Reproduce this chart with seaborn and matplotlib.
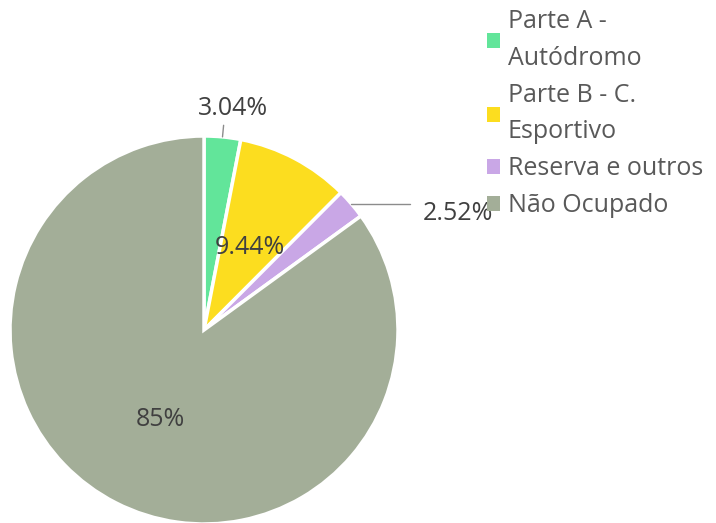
import numpy as np
import seaborn as sns
import matplotlib.pyplot as plt
from matplotlib.patches import Patch

labels = ["Parte A -\nAutódromo", "Parte B - C.\nEsportivo", "Reserva e outros", "Não Ocupado"]
values = [3.04, 9.44, 2.52, 85.0]
pct_text = ["3.04%", "9.44%", "2.52%", "85%"]
colors = ["#62E59A", "#FCDD1F", "#C9A7E6", "#A3AE98"]

sns.set_theme(style="white")
plt.rcParams['font.family'] = ['Open Sans', 'DejaVu Sans']
txt_color = "#404040"
leg_color = "#595959"
fs = 18

fig = plt.figure(figsize=(7.16, 5.23), dpi=100)
ax = fig.add_axes([0, 0, 1, 1])
wedges, _ = ax.pie(values, colors=sns.color_palette(colors), startangle=90,
                   counterclock=False, radius=1.0,
                   wedgeprops=dict(edgecolor="white", linewidth=2.5))
ax.set_aspect("equal")
r_px = 194
ax.set_xlim(-204 / r_px, (716 - 204) / r_px)
ax.set_ylim(-193 / r_px, 330 / r_px)
ax.axis("off")

for i, w in enumerate(wedges):
    mid = np.deg2rad((w.theta1 + w.theta2) / 2)
    cx, cy = np.cos(mid), np.sin(mid)
    if i in (1, 3):
        ax.text(0.5 * cx, 0.5 * cy - 0.015, pct_text[i], ha="center", va="center",
                fontsize=fs, color=txt_color)
    elif i == 0:
        ax.plot([cx, 1.06 * cx], [cy, 1.06 * cy], color="#8c8c8c", lw=1)
        ax.text(1.06 * cx + 0.05, 1.06 * cy + 0.02, pct_text[i], ha="center",
                va="bottom", fontsize=fs, color=txt_color)
    else:
        ax.plot([cx, cx + 0.3], [cy, cy], color="#8c8c8c", lw=1)
        ax.text(cx + 0.37, cy - 0.05, pct_text[i], ha="left", va="center",
                fontsize=fs, color=txt_color)

handles = [Patch(facecolor=c, edgecolor="none") for c in colors]
leg = fig.legend(handles, labels, loc="upper left",
                 bbox_to_anchor=(484 / 716, 1.0 - 7 / 523),
                 frameon=False, fontsize=fs, handlelength=0.55, handleheight=0.55,
                 handletextpad=0.3, labelspacing=0.48, borderaxespad=0.0,
                 borderpad=0.1)
for t in leg.get_texts():
    t.set_color(leg_color)
    t.set_linespacing(1.6)

fig.savefig("out.png", dpi=100)
